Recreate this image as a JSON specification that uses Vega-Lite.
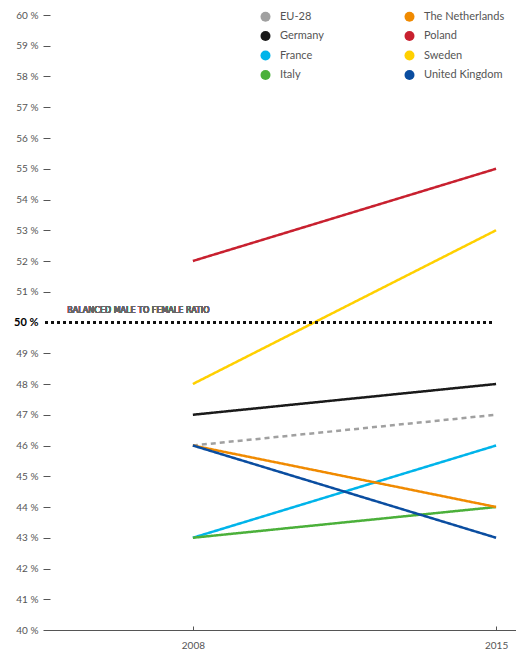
{
  "$schema": "https://vega.github.io/schema/vega-lite/v6.json",
  "width": 473,
  "height": 615,
  "autosize": "none",
  "padding": {"left": 43, "top": 15, "right": 0, "bottom": 29},
  "config": {"view": {"stroke": null}, "font": "Lato"},
  "data": {"values": [
    {"country": "EU-28", "year": 2008, "share": 46},
    {"country": "EU-28", "year": 2015, "share": 47},
    {"country": "Germany", "year": 2008, "share": 47},
    {"country": "Germany", "year": 2015, "share": 48},
    {"country": "France", "year": 2008, "share": 43},
    {"country": "France", "year": 2015, "share": 46},
    {"country": "Italy", "year": 2008, "share": 43},
    {"country": "Italy", "year": 2015, "share": 44},
    {"country": "The Netherlands", "year": 2008, "share": 46},
    {"country": "The Netherlands", "year": 2015, "share": 44},
    {"country": "Poland", "year": 2008, "share": 52},
    {"country": "Poland", "year": 2015, "share": 55},
    {"country": "Sweden", "year": 2008, "share": 48},
    {"country": "Sweden", "year": 2015, "share": 53},
    {"country": "United Kingdom", "year": 2008, "share": 46},
    {"country": "United Kingdom", "year": 2015, "share": 43}
  ]},
  "layer": [
    {
      "mark": {"type": "line", "strokeWidth": 2.5},
      "encoding": {
        "x": {
          "field": "year", "type": "quantitative",
          "scale": {"domain": [2004.54, 2015.46], "nice": false, "zero": false},
          "axis": {
            "title": null, "values": [2008, 2015], "format": "d",
            "grid": false, "domainColor": "#555555", "domainWidth": 1,
            "tickColor": "#555555", "tickSize": -4, "labelPadding": 14,
            "labelColor": "#555555", "labelFontSize": 10
          }
        },
        "y": {
          "field": "share", "type": "quantitative",
          "scale": {"domain": [40, 60], "nice": false, "zero": false},
          "axis": {
            "title": null,
            "values": [40, 41, 42, 43, 44, 45, 46, 47, 48, 49, 50, 51, 52, 53, 54, 55, 56, 57, 58, 59, 60],
            "tickCount": 30,
            "labelExpr": "datum.value + ' %'",
            "labelOverlap": false,
            "domain": false, "grid": false,
            "tickColor": {"condition": {"test": "datum.value == 40 || datum.value == 50", "value": "transparent"}, "value": "#555555"},
            "tickSize": -7, "tickWidth": 1, "labelPadding": 12,
            "labelColor": {"condition": {"test": "datum.value == 50", "value": "#000000"}, "value": "#555555"},
            "labelFontWeight": {"condition": {"test": "datum.value == 50", "value": "bold"}, "value": "normal"},
            "labelFontSize": {"condition": {"test": "datum.value == 50", "value": 11}, "value": 10}
          }
        },
        "color": {
          "field": "country", "type": "nominal",
          "scale": {
            "domain": ["EU-28", "Germany", "France", "Italy", "The Netherlands", "Poland", "Sweden", "United Kingdom"],
            "range": ["#a0a0a0", "#1a1a1a", "#00b4ea", "#4bb03a", "#f08a00", "#c8202f", "#ffd000", "#0a4da0"]
          },
          "legend": {
            "title": null, "orient": "none", "legendX": 217, "legendY": -4,
            "columns": 2, "columnPadding": 80, "rowPadding": 7.5,
            "symbolType": "circle", "symbolSize": 100, "symbolStrokeWidth": 0,
            "labelFontSize": 11, "labelColor": "#555555", "labelOffset": 9,
            "encode": {"symbols": {"update": {"fill": {"scale": "color", "field": "value"}, "strokeWidth": {"value": 0}}}}
          }
        },
        "strokeDash": {
          "field": "country", "type": "nominal",
          "scale": {
            "domain": ["EU-28", "Germany", "France", "Italy", "The Netherlands", "Poland", "Sweden", "United Kingdom"],
            "range": [[5, 4], [1, 0], [1, 0], [1, 0], [1, 0], [1, 0], [1, 0], [1, 0]]
          },
          "legend": null
        }
      }
    },
    {
      "mark": {"type": "rule", "color": "#111111", "strokeWidth": 2.2, "strokeDash": [2, 4]},
      "encoding": {
        "y": {"datum": 50, "type": "quantitative"},
        "x": {"datum": 2004.6, "type": "quantitative"},
        "x2": {"datum": 2014.95}
      }
    },
    {
      "mark": {"type": "text", "align": "left", "baseline": "middle", "fontSize": 8, "font": "DejaVu Sans", "color": "#666666", "text": "BALANCED MALE TO FEMALE RATIO"},
      "encoding": {
        "x": {"datum": 2005.1, "type": "quantitative"},
        "y": {"datum": 50.36, "type": "quantitative"}
      }
    }
  ]
}
